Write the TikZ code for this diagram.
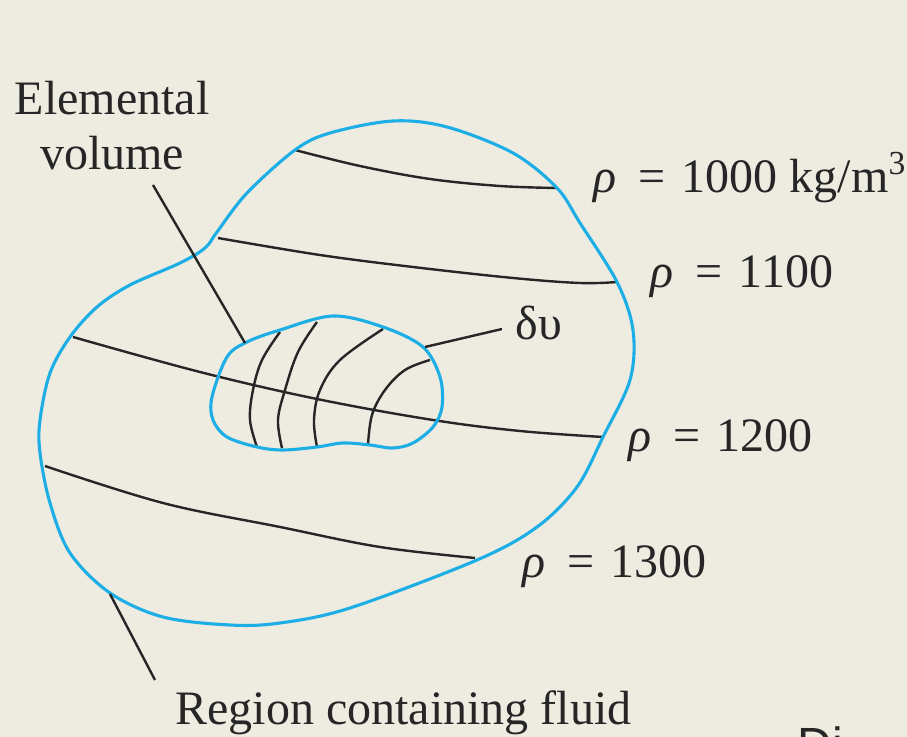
\documentclass[tikz,border=0pt]{standalone}
\usepackage{fontspec}
\setmainfont{Liberation Serif}
\newfontfamily\cutsans{Liberation Sans}
\usetikzlibrary{positioning}
\definecolor{PaperBg}{HTML}{EEEBE1}
\definecolor{FluidCyan}{HTML}{1DAEE6}
\definecolor{InkDark}{HTML}{262626}

\begin{document}
\begin{tikzpicture}[x=0.5pt,y=-0.5pt,
    boundary/.style={draw=FluidCyan,line width=1.55pt},
    isoline/.style={draw=InkDark,line width=1.2pt},
    leader/.style={draw=InkDark,line width=1.2pt},
    lbl/.style={font=\fontsize{24}{27.5}\selectfont,text=InkDark,inner sep=0pt,anchor=base west}
  ]
  \fill[PaperBg] (0,0) rectangle (907,737);
  \useasboundingbox (0,0) rectangle (907,737);

  % lines of constant density
  \draw[isoline] plot[smooth,tension=0.6] coordinates {(295,150) (360,166) (430,179) (500,186) (557,188)};
  \draw[isoline] plot[smooth,tension=0.6] coordinates {(218,238) (320,255) (413,267) (513,278) (580,283) (617,282)};
  \draw[isoline] plot[smooth,tension=0.6] coordinates {(73,337) (200,372) (317,399) (433,420) (520,431) (603,437)};
  \draw[isoline] plot[smooth,tension=0.6] coordinates {(45,466) (163,503) (280,527) (380,547) (475,558)};

  % grid inside the elemental volume
  \draw[isoline] plot[smooth,tension=0.6] coordinates {(280,332) (262,360) (253,390) (250,420) (257,447)};
  \draw[isoline] plot[smooth,tension=0.6] coordinates {(317,322) (298,352) (285,390) (278,420) (282,448)};
  \draw[isoline] plot[smooth,tension=0.6] coordinates {(383,329) (340,360) (320,390) (314,420) (317,447)};
  \draw[isoline] plot[smooth,tension=0.6] coordinates {(430,360) (405,370) (385,390) (372,415) (368,445)};

  % region and elemental volume
  \draw[boundary] plot[smooth cycle,tension=0.55] coordinates {
    (295,150) (330,133) (393,121) (447,127) (513,153) (557,188) (580,223)
    (617,282) (633,330) (630,380) (603,437) (577,487) (537,527) (477,560)
    (350,608) (280,623) (230,625) (163,617) (110,593) (70,553) (50,503)
    (40,453) (40,420) (50,373) (70,337) (97,307) (130,285) (180,263)
    (205,248) (217,232) (247,193)};
  \draw[boundary] plot[smooth cycle,tension=0.55] coordinates {
    (212,397) (227,357) (247,342) (280,330) (333,316) (383,327) (423,347)
    (440,377) (442,407) (433,427) (413,443) (393,448) (370,445) (343,443)
    (317,447) (283,450) (257,447) (227,437) (213,420)};

  % labels
  \node[lbl,anchor=north,align=center] (elemental) at (112,81) {Elemental\\volume};
  \node[lbl] (dv) at (515,340) {δυ};
  \node[lbl] (rho1000) at (593,193) {\textit{ρ}\hspace{0.45em}=\hspace{0.35em}1000 kg/m\textsuperscript{3}};
  \node[lbl] (rho1100) at (650,288) {\textit{ρ}\hspace{0.45em}=\hspace{0.35em}1100};
  \node[lbl] (rho1200) at (628,452) {\textit{ρ}\hspace{0.45em}=\hspace{0.35em}1200};
  \node[lbl] (rho1300) at (522,578) {\textit{ρ}\hspace{0.45em}=\hspace{0.35em}1300};
  \node[lbl] (region) at (175,725) {Region containing fluid};
  \node[lbl,font=\cutsans\fontsize{24}{28}\selectfont] (cutoff) at (797,762) {Di};

  % leaders
  \coordinate (elemFoot) at (153,185);
  \coordinate (elemTip) at (245,343);
  \coordinate (dvTip) at (425,347);
  \coordinate (dvFoot) at (502,329);
  \coordinate (regionTip) at (110,594);
  \coordinate (regionFoot) at (155,680);
  \draw[leader] (elemFoot) -- (elemTip);
  \draw[leader] (dvFoot) -- (dvTip);
  \draw[leader] (regionFoot) -- (regionTip);
\end{tikzpicture}
\end{document}
